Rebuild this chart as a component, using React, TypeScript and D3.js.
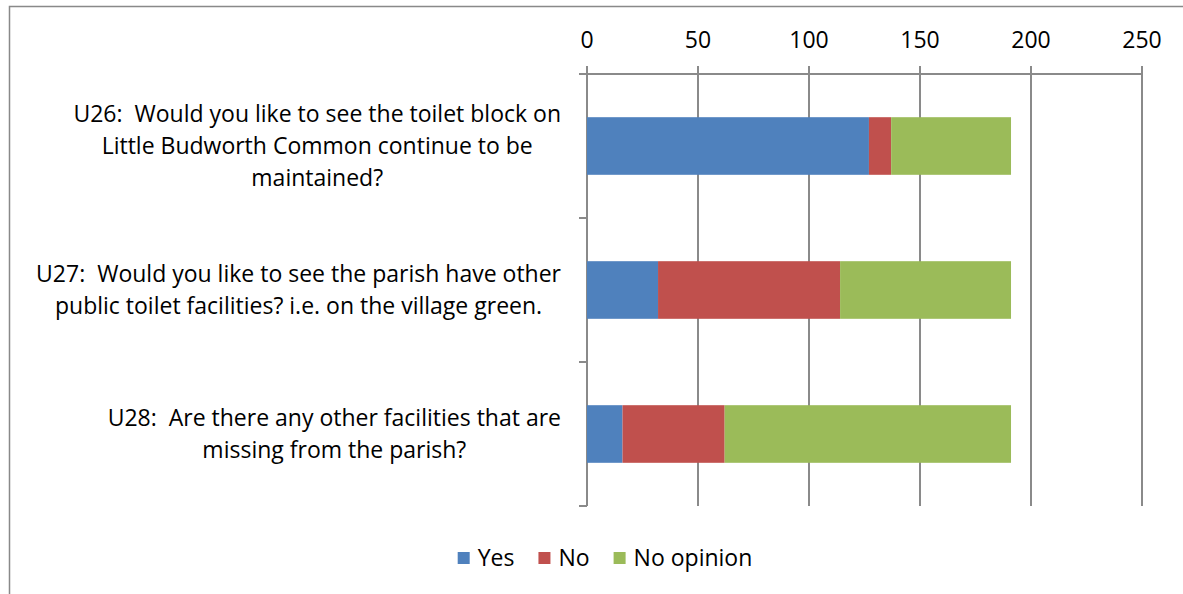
import { useEffect, useRef } from "react";
import * as d3 from "d3";

const categories = [
  ["U26:  Would you like to see the toilet block on", "Little Budworth Common continue to be", "maintained?"],
  ["U27:  Would you like to see the parish have other", "public toilet facilities? i.e. on the village green."],
  ["U28:  Are there any other facilities that are", "missing from the parish?"],
];
const seriesNames = ["Yes", "No", "No opinion"];
const yesValues = [127, 32, 16];
const noValues = [10, 82, 46];
const noOpinionValues = [54, 77, 129];
const xTicks = [0, 50, 100, 150, 200, 250];
const colors = ["#4F81BD", "#C0504D", "#9BBB59"];

const FONT = "'Open Sans', 'Noto Sans', sans-serif";
const FS = 23;

export default function App() {
  const svgRef = useRef<SVGSVGElement>(null);

  useEffect(() => {
    document.body.style.margin = "0";
    if (!svgRef.current) return;
    const width = 1183;
    const height = 594;
    const margin = { top: 74, right: 41, bottom: 88, left: 587 };

    const svg = d3.select(svgRef.current);
    svg.selectAll("*").remove();
    svg.attr("width", width).attr("height", height);

    svg.append("rect").attr("width", width).attr("height", height).attr("fill", "#fff");
    svg
      .append("rect")
      .attr("x", 9.5)
      .attr("y", 6.5)
      .attr("width", width + 20)
      .attr("height", height + 20)
      .attr("fill", "none")
      .attr("stroke", "#898989")
      .attr("stroke-width", 1.5);

    const x = d3.scaleLinear().domain([0, 250]).range([margin.left, width - margin.right]);
    const idx = categories.map((_, i) => i);
    const y = d3
      .scaleBand<number>()
      .domain(idx)
      .range([margin.top, height - margin.bottom])
      .paddingInner(0.6)
      .paddingOuter(0.3);
    const bandStep = y.step();
    const grid = "#8a8a8a";

    // gridlines + ticks
    svg
      .append("g")
      .selectAll("line")
      .data(xTicks)
      .join("line")
      .attr("x1", (d) => x(d))
      .attr("x2", (d) => x(d))
      .attr("y1", margin.top - 8)
      .attr("y2", height - margin.bottom)
      .attr("stroke", grid)
      .attr("stroke-width", 2);

    svg
      .append("line")
      .attr("x1", margin.left - 8)
      .attr("x2", x(250))
      .attr("y1", margin.top)
      .attr("y2", margin.top)
      .attr("stroke", grid)
      .attr("stroke-width", 2);

    // category separators on left
    const seps = d3.range(categories.length + 1).map((i) => margin.top + i * bandStep);
    svg
      .append("g")
      .selectAll("line")
      .data(seps)
      .join("line")
      .attr("x1", margin.left - 8)
      .attr("x2", margin.left)
      .attr("y1", (d) => d)
      .attr("y2", (d) => d)
      .attr("stroke", grid)
      .attr("stroke-width", 2);

    svg
      .append("g")
      .selectAll("text")
      .data(xTicks)
      .join("text")
      .attr("x", (d) => x(d))
      .attr("y", 48)
      .attr("text-anchor", "middle")
      .attr("font-family", FONT)
      .attr("font-size", FS)
      .attr("fill", "#000")
      .text((d) => d);

    // stacked bars
    const rows = idx.map((i) => ({ i, vals: [yesValues[i], noValues[i], noOpinionValues[i]] }));
    const stackData = rows.map((r) => {
      let acc = 0;
      return r.vals.map((v, s) => {
        const seg = { i: r.i, s, x0: acc, x1: acc + v };
        acc += v;
        return seg;
      });
    });
    svg
      .append("g")
      .selectAll("rect")
      .data(stackData.flat())
      .join("rect")
      .attr("x", (d) => x(d.x0))
      .attr("width", (d) => x(d.x1) - x(d.x0))
      .attr("y", (d) => y(d.i)!)
      .attr("height", y.bandwidth())
      .attr("fill", (d) => colors[d.s]);

    // category labels: block right-aligned, lines centred
    const labelRight = 561;
    const lineH = 32;
    categories.forEach((lines, i) => {
      const g = svg.append("g");
      const texts = g
        .selectAll("text")
        .data(lines)
        .join("text")
        .attr("font-family", FONT)
        .attr("font-size", FS)
        .attr("fill", "#000")
        .attr("text-anchor", "middle")
        .style("white-space", "pre")
        .text((d) => d);
      let maxW = 0;
      texts.each(function () {
        maxW = Math.max(maxW, (this as SVGTextElement).getComputedTextLength());
      });
      const cx = labelRight - maxW / 2;
      const cy = y(i)! + y.bandwidth() / 2;
      const first = cy - ((lines.length - 1) * lineH) / 2;
      texts.attr("x", cx).attr("y", (_, k) => first + k * lineH + 8);
    });

    // legend
    const legend = svg.append("g");
    const items = legend
      .selectAll("g")
      .data(seriesNames)
      .join("g");
    items
      .append("rect")
      .attr("width", 12)
      .attr("height", 12)
      .attr("y", 552)
      .attr("fill", (_, k) => colors[k]);
    items
      .append("text")
      .attr("x", 20)
      .attr("y", 566)
      .attr("font-family", FONT)
      .attr("font-size", FS)
      .attr("fill", "#000")
      .text((d) => d);
    const widths: number[] = [];
    items.select("text").each(function () {
      widths.push(20 + (this as SVGTextElement).getComputedTextLength());
    });
    const gap = 24;
    const total = d3.sum(widths) + gap * (widths.length - 1);
    let cur = 605 - total / 2;
    items.attr("transform", (_, k) => {
      const t = `translate(${cur},0)`;
      cur += widths[k] + gap;
      return t;
    });
  }, []);

  return <svg ref={svgRef} style={{ display: "block" }} />;
}
